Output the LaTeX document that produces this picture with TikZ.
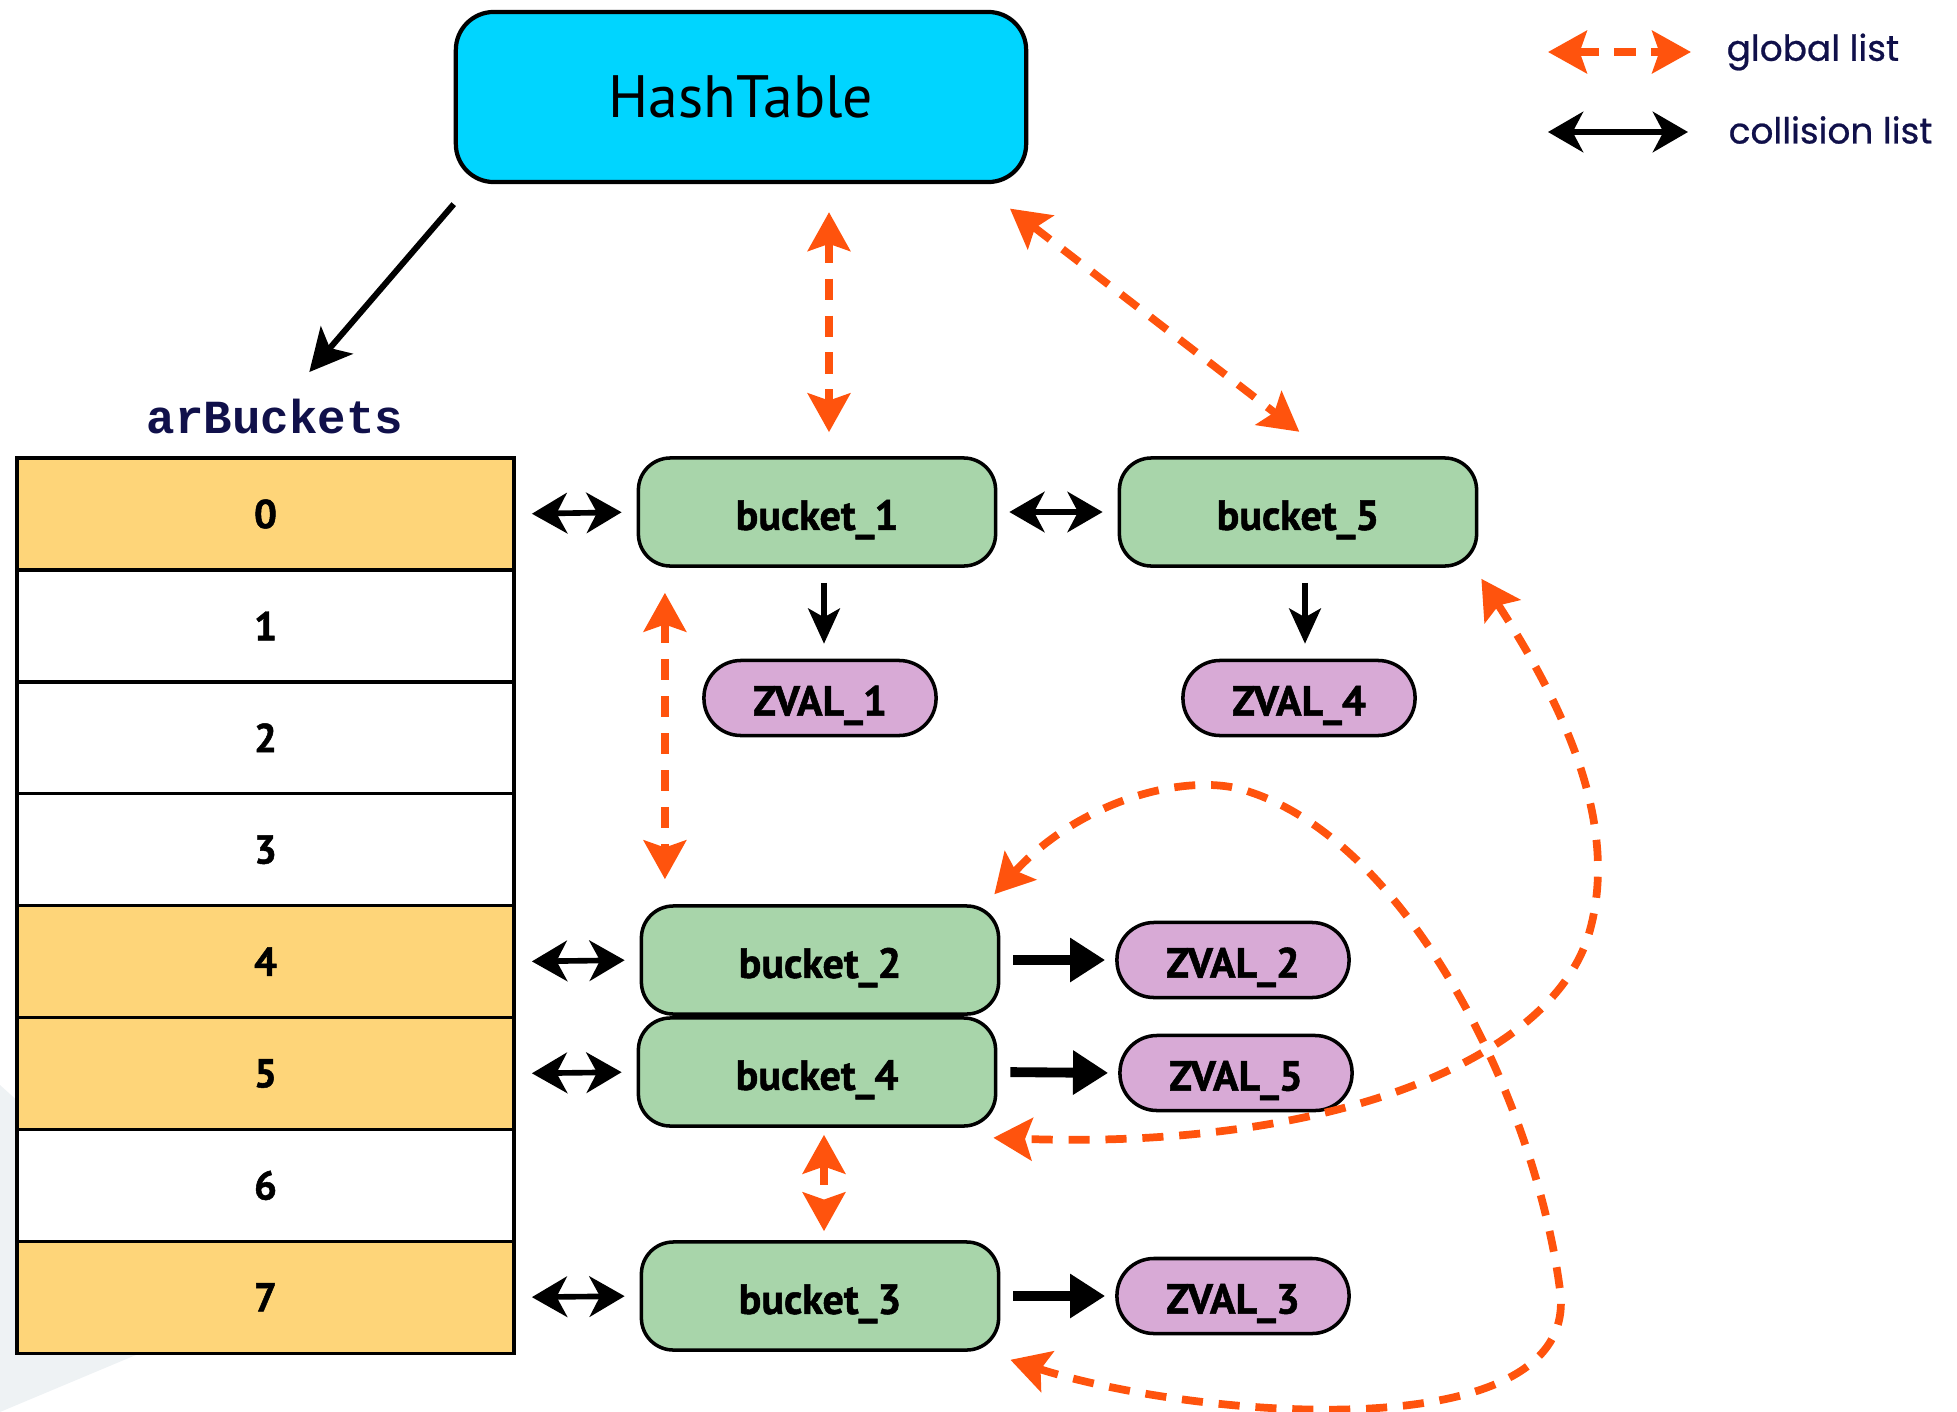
\documentclass[tikz,border=0pt]{standalone}
\usepackage{fontspec}
\usetikzlibrary{arrows.meta}
\usetikzlibrary{positioning}
\newfontfamily\gillfont[BoldFeatures={FakeBold=1.2}]{PT Sans}
\newfontfamily\legendfont[FakeBold=0.7]{Poppins}
\newfontfamily\codefont{Liberation Mono}
\definecolor{htcyan}{HTML}{00D5FF}
\definecolor{bktgreen}{HTML}{A8D5AA}
\definecolor{zvpurple}{HTML}{D8AAD6}
\definecolor{rowyellow}{HTML}{FED579}
\definecolor{globorange}{HTML}{FF530D}
\definecolor{legnavy}{HTML}{10104A}
\definecolor{slidegray}{HTML}{EEF2F4}
\tikzset{hashbox/.style = {draw, line width=1.2pt, fill=htcyan, rounded corners=0.38cm,
                           minimum width=5.7cm, minimum height=1.7cm,
                           font=\gillfont\fontsize{17}{20}\selectfont}}
\tikzset{cell/.style = {draw, line width=1pt, minimum width=4.97cm, minimum height=1.119cm,
                        font=\gillfont\bfseries\fontsize{11.5}{13}\selectfont}}
\tikzset{bkt/.style = {draw, line width=1pt, fill=bktgreen, rounded corners=0.32cm,
                       minimum width=3.57cm, minimum height=1.08cm,
                       text height=10.2pt, text depth=0pt,
                       font=\gillfont\bfseries\fontsize{12}{14}\selectfont}}
\tikzset{zval/.style = {draw, line width=1pt, fill=zvpurple, rounded corners=0.37cm,
                        minimum width=2.32cm, minimum height=0.75cm,
                        text height=10pt, text depth=0pt,
                        font=\gillfont\bfseries\fontsize{12}{14}\selectfont}}
\tikzset{legtext/.style = {anchor=west, text=legnavy, inner sep=0pt,
                           font=\legendfont\fontsize{10.2}{12}\selectfont}}
\tikzset{glob/.style = {draw=globorange, line width=2.2pt, dash pattern=on 6pt off 4.5pt,
                        {Stealth[length=11pt,width=12pt,inset=2pt]}-{Stealth[length=11pt,width=12pt,inset=2pt]}}}
\tikzset{coll/.style = {line width=1.6pt,
                        {Stealth[length=10pt,width=11.5pt,inset=3pt]}-{Stealth[length=10pt,width=11.5pt,inset=3pt]}}}
\tikzset{down/.style = {line width=1.6pt, -{Stealth[length=10pt,width=9pt,inset=2.5pt]}}}
\tikzset{fwd/.style = {line width=2.8pt, -{Triangle[length=10pt,width=12pt]}}}

\begin{document}
\begin{tikzpicture}[x=0.01cm,y=-0.01cm]
  \useasboundingbox (0,0) rectangle (1957,1412);
  \fill[slidegray] (0,1085) -- (248,1308) -- (0,1412) -- cycle;

  % the table and its buckets
  \node[hashbox] (ht) at (741,97) {HashTable};
  \node[inner sep=0pt, text=legnavy, font=\codefont\bfseries\fontsize{13.5}{15}\selectfont] (arb) at (275,417) {arBuckets};
  \foreach \i/\c in {0/rowyellow,1/white,2/white,3/white,4/rowyellow,5/rowyellow,6/white,7/rowyellow}
    \node[cell, fill=\c] (r\i) at (265.5,{514+\i*111.9}) {\i};

  \node[bkt] (b1) at (817,512) {bucket\_1};
  \node[bkt] (b5) at (1298,512) {bucket\_5};
  \node[bkt] (b2) at (820,960) {bucket\_2};
  \node[bkt] (b4) at (817,1072) {bucket\_4};
  \node[bkt] (b3) at (820,1296) {bucket\_3};

  \node[zval] (z1) at (820,698) {ZVAL\_1};
  \node[zval] (z4) at (1299,698) {ZVAL\_4};
  \node[zval] (z2) at (1233,960) {ZVAL\_2};
  \node[zval] (z5) at (1236,1073) {ZVAL\_5};
  \node[zval] (z3) at (1233,1296) {ZVAL\_3};

  % collision list
  \draw[down, line width=1.7pt, -{Stealth[length=12pt,width=12pt,inset=3pt]}, shorten >=0.05cm]
    ([yshift=-0.2cm]ht.south west) -- ([xshift=0.31cm,yshift=0.23cm]arb.north);
  \foreach \a/\b in {r0/b1,r4/b2,r5/b4,r7/b3}
    \draw[coll, shorten <=0.16cm, shorten >=0.15cm] (\a.east) -- (\b.west);
  \draw[coll, shorten <=0.12cm, shorten >=0.15cm] (b1.east) -- (b5.west);
  \draw[down, shorten <=0.15cm, shorten >=0.15cm] ([xshift=0.07cm]b1.south) -- ([xshift=0.07cm]b1.south |- z1.north);
  \draw[down, shorten <=0.15cm, shorten >=0.15cm] ([xshift=0.07cm]b5.south) -- ([xshift=0.07cm]b5.south |- z4.north);
  \draw[fwd, shorten <=0.13cm, shorten >=0.1cm] (b2.east) -- (z2.west);
  \draw[fwd, shorten <=0.13cm, shorten >=0.1cm] (b4.east) -- (z5.west);
  \draw[fwd, shorten <=0.13cm, shorten >=0.1cm] (b3.east) -- (z3.west);

  % global list
  \draw[glob, shorten <=0.28cm, shorten >=0.24cm] ([xshift=0.12cm]b1.north |- ht.south) -- ([xshift=0.12cm]b1.north);
  \draw[glob, shorten <=0.4cm, shorten >=0.4cm] ([xshift=-0.5cm]ht.south east) -- ([xshift=0.33cm]b5.north);
  \draw[glob, shorten <=0.25cm, shorten >=0.25cm] ([xshift=-1.52cm]b1.south) -- ([xshift=-1.52cm]b1.south |- b2.north);
  \draw[glob, shorten <=0.07cm, shorten >=0.09cm] ([xshift=0.07cm]b4.south) -- ([xshift=0.07cm]b4.south |- b3.north);
  \draw[glob] ([xshift=0.03cm,yshift=-0.11cm]b5.south east)
    .. controls (1560,700) and (1620,820) .. (1590,930)
    .. controls (1555,1060) and (1330,1150) .. ([xshift=-0.04cm,yshift=-0.1cm]b4.south east);
  \draw[glob] ([xshift=-0.06cm,yshift=0.1cm]b2.north east)
    .. controls (1080,800) and (1190,770) .. (1250,792)
    .. controls (1410,845) and (1535,1100) .. (1560,1290)
    .. controls (1582,1450) and (1200,1420) .. ([xshift=0.1cm,yshift=-0.08cm]b3.south east);

  % legend
  \node[legtext] (lglob) at (1726,52) {global list};
  \node[legtext] (lcoll) at (1728,130) {collision list};
  \coordinate (lgs) at (1548,52);
  \coordinate (lcs) at (1548,132);
  \draw[glob] (lgs) -- ([xshift=-0.35cm]lglob.west);
  \draw[coll] (lcs) -- ([xshift=-0.4cm,yshift=-0.02cm]lcoll.west);
\end{tikzpicture}
\end{document}
